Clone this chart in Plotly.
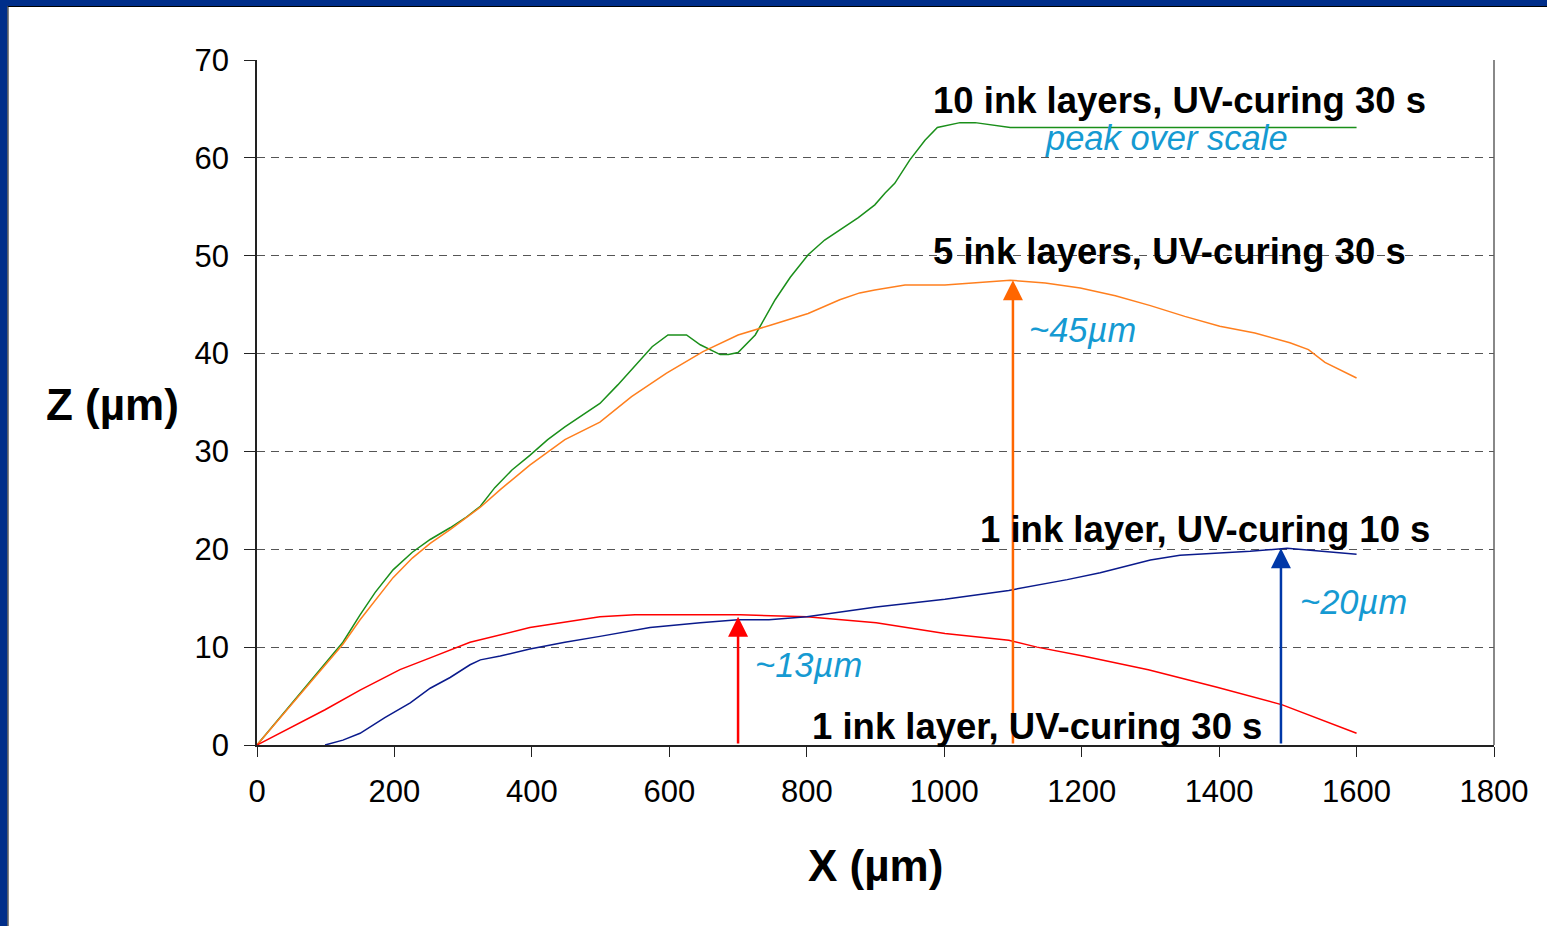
import plotly.graph_objects as go

# ---- data ----
x_green = [0, 125, 150, 172, 198, 226, 252, 281, 303, 325, 346, 371, 397, 423, 448, 474, 499, 525, 550, 575, 598, 625, 645, 674, 686, 700, 725, 739, 754, 776, 802, 826, 851, 875, 899, 914, 928, 950, 972, 990, 1023, 1045, 1096, 1600]
y_green = [0, 10.5, 13.3, 15.6, 17.9, 19.7, 21.0, 22.2, 23.2, 24.4, 26.3, 28.1, 29.6, 31.2, 32.5, 33.7, 34.9, 36.8, 38.8, 40.7, 41.9, 41.9, 40.9, 39.9, 39.9, 40.1, 41.9, 43.6, 45.5, 47.8, 50.1, 51.6, 52.8, 53.9, 55.2, 56.4, 57.4, 59.8, 61.8, 63.1, 63.6, 63.6, 63.1, 63.1]

x_orange = [0, 125, 150, 172, 198, 226, 252, 281, 325, 354, 397, 448, 499, 545, 596, 649, 700, 747, 802, 848, 877, 899, 943, 1001, 1096, 1147, 1198, 1249, 1300, 1350, 1401, 1452, 1503, 1530, 1554, 1600]
y_orange = [0, 10.3, 12.8, 14.8, 17.1, 19.1, 20.6, 22.0, 24.3, 26.1, 28.6, 31.2, 33.0, 35.6, 38.0, 40.2, 41.9, 42.9, 44.1, 45.5, 46.2, 46.5, 47.0, 47.0, 47.5, 47.2, 46.7, 45.9, 44.9, 43.8, 42.8, 42.1, 41.1, 40.4, 39.1, 37.5]

x_red = [0, 99, 150, 208, 252, 310, 397, 499, 550, 703, 800, 901, 1001, 1045, 1094, 1135, 1202, 1297, 1397, 1492, 1600]
y_red = [0, 3.6, 5.6, 7.7, 8.9, 10.5, 12.0, 13.1, 13.3, 13.3, 13.1, 12.5, 11.4, 11.1, 10.7, 10.0, 9.1, 7.7, 5.9, 4.1, 1.2]

x_blue = [99, 125, 150, 186, 223, 252, 281, 310, 325, 354, 397, 448, 499, 572, 645, 700, 745, 800, 901, 1001, 1094, 1179, 1227, 1300, 1343, 1445, 1499, 1600]
y_blue = [0, 0.5, 1.2, 2.8, 4.3, 5.8, 6.9, 8.2, 8.7, 9.1, 9.8, 10.5, 11.1, 12.0, 12.5, 12.8, 12.8, 13.1, 14.1, 14.9, 15.8, 16.9, 17.6, 18.9, 19.4, 19.8, 20.1, 19.5]

arrow_x = [700, 1100, 1490]
arrow_top = [13.1, 47.5, 20.1]
arrow_colors = ["#FF0000", "#FF6600", "#0038A8"]

x_ticks = [0, 200, 400, 600, 800, 1000, 1200, 1400, 1600, 1800]
y_ticks = [0, 10, 20, 30, 40, 50, 60, 70]

series_labels = ["10 ink layers, UV-curing 30 s", "5 ink layers, UV-curing 30 s",
                 "1 ink layer, UV-curing 10 s", "1 ink layer, UV-curing 30 s"]
label_pos = [(1343, 65.9), (1328, 50.4), (1379, 22.0), (1135, 1.9)]
note_texts = ["peak over scale", "~45µm", "~20µm", "~13µm"]
note_pos = [(1323, 62.0), (1201, 42.4), (1595, 14.6), (802, 8.2)]

# ---- figure ----
W, H = 1547, 926
L, R, T, B = 257, 53, 60, 181
PW, PH = W - L - R, H - T - B

def px(xp):
    return (xp - L) / PW

def py(yp):
    return (H - B - yp) / PH

fig = go.Figure()
line_w = 1.5
fig.add_trace(go.Scatter(x=x_green, y=y_green, mode="lines", line=dict(color="#1A8F1A", width=line_w)))
fig.add_trace(go.Scatter(x=x_orange, y=y_orange, mode="lines", line=dict(color="#FF7F1E", width=line_w)))
fig.add_trace(go.Scatter(x=x_red, y=y_red, mode="lines", line=dict(color="#FF0000", width=line_w)))
fig.add_trace(go.Scatter(x=x_blue, y=y_blue, mode="lines", line=dict(color="#0A1A8C", width=line_w)))

annotations = []
for ax_, top, c in zip(arrow_x, arrow_top, arrow_colors):
    annotations.append(dict(x=ax_, y=top, ax=ax_, ay=0, xref="x", yref="y", axref="x", ayref="y",
                            text="", showarrow=True, arrowhead=2, arrowsize=1.6, arrowwidth=2.5,
                            arrowcolor=c, standoff=0))
for t, (x_, y_) in zip(series_labels, label_pos):
    annotations.append(dict(x=x_, y=y_, xref="x", yref="y", text="<b>" + t + "</b>", showarrow=False,
                            font=dict(family="Liberation Sans, Arial", size=36.5, color="black"),
                            xanchor="center", yanchor="middle"))
for t, (x_, y_) in zip(note_texts, note_pos):
    annotations.append(dict(x=x_, y=y_, xref="x", yref="y", text="<i>" + t + "</i>", showarrow=False,
                            font=dict(family="Liberation Sans, Arial", size=34.5, color="#159AD2"),
                            xanchor="center", yanchor="middle"))
annotations.append(dict(x=px(112), y=py(405), xref="paper", yref="paper", text="<b>Z (µm)</b>",
                        showarrow=False, font=dict(family="Liberation Sans, Arial", size=44, color="black"),
                        xanchor="center", yanchor="middle"))
annotations.append(dict(x=px(875), y=py(865), xref="paper", yref="paper", text="<b>X (µm)</b>",
                        showarrow=False, font=dict(family="Liberation Sans, Arial", size=44, color="black"),
                        xanchor="center", yanchor="middle"))

border = "#002E8A"
shapes = [
    dict(type="rect", xref="paper", yref="paper", x0=px(0), x1=px(W), y0=py(6), y1=py(0),
         fillcolor=border, line=dict(width=0), layer="above"),
    dict(type="rect", xref="paper", yref="paper", x0=px(0), x1=px(7.5), y0=py(H), y1=py(0),
         fillcolor=border, line=dict(width=0), layer="above"),
    dict(type="line", xref="paper", yref="paper", x0=px(7.5), x1=px(W), y0=py(6.5), y1=py(6.5),
         line=dict(color="black", width=1.2), layer="above"),
    dict(type="line", xref="paper", yref="paper", x0=px(8), x1=px(8), y0=py(H), y1=py(6.5),
         line=dict(color="#333333", width=1.2), layer="above"),
    dict(type="line", xref="paper", yref="paper", x0=1, x1=1, y0=0, y1=1,
         line=dict(color="#606060", width=1.5), layer="above"),
]

fig.update_layout(
    width=W, height=H,
    margin=dict(l=L, r=R, t=T, b=B),
    paper_bgcolor="white", plot_bgcolor="white",
    showlegend=False,
    annotations=annotations,
    shapes=shapes,
    font=dict(family="Liberation Sans, Arial", color="black"),
)
fig.update_xaxes(range=[0, 1800], tickvals=x_ticks, showgrid=False, zeroline=False,
                 showline=True, linecolor="#222222", linewidth=1.5,
                 ticks="outside", ticklen=10, tickwidth=1.2, tickcolor="#222222",
                 ticklabelstandoff=8,
                 tickfont=dict(size=31, color="black"))
fig.update_yaxes(range=[0, 70], tickvals=y_ticks, showgrid=True, gridcolor="#555555", gridwidth=1.2,
                 griddash="8px,6px", zeroline=False,
                 showline=True, linecolor="#222222", linewidth=1.5,
                 ticks="outside", ticklen=11, tickwidth=1.2, tickcolor="#222222",
                 ticklabelstandoff=9,
                 tickfont=dict(size=31, color="black"))

fig.write_html("out.html", config={"displayModeBar": False},
               post_script="document.body.style.margin='0';document.body.style.overflow='hidden';")
